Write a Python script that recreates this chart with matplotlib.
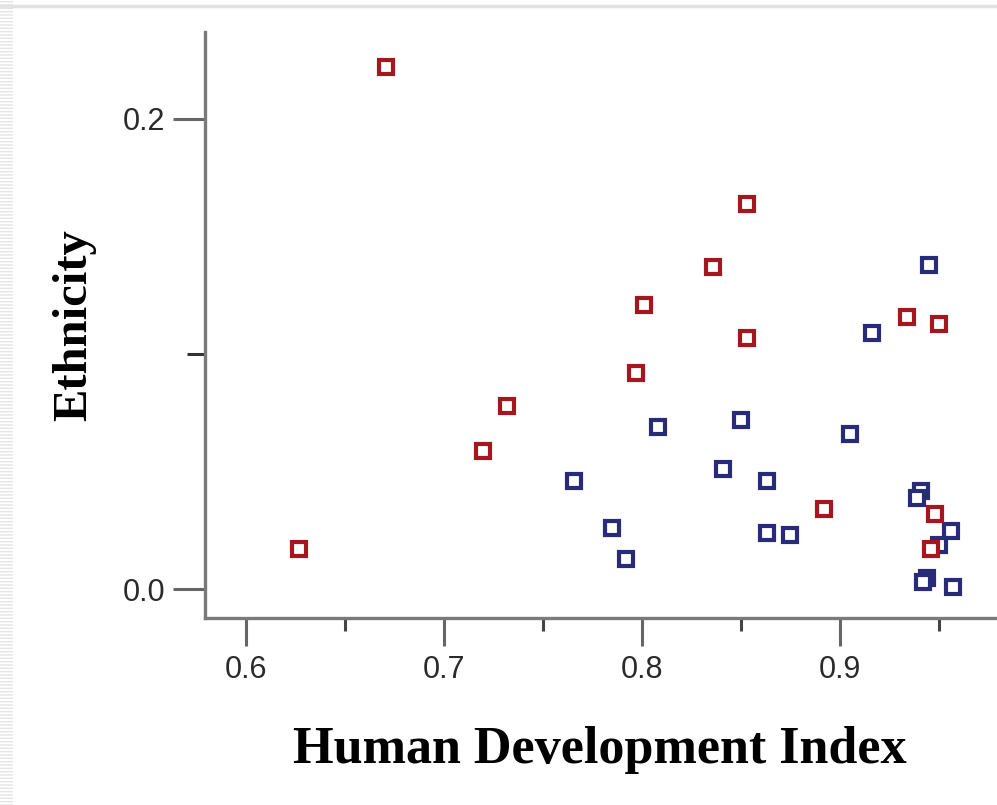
import matplotlib
matplotlib.use("Agg")
import matplotlib.pyplot as plt
from matplotlib.lines import Line2D
from matplotlib.patches import Rectangle

# Human Development Index vs. Ethnicity, two groups of countries
red_hdi = [0.627, 0.671, 0.720, 0.732, 0.797, 0.801, 0.836, 0.853, 0.853,
           0.892, 0.934, 0.950, 0.948, 0.946]
red_eth = [0.017, 0.222, 0.059, 0.078, 0.092, 0.121, 0.137, 0.164, 0.107,
           0.034, 0.116, 0.113, 0.032, 0.017]

blue_hdi = [0.766, 0.785, 0.792, 0.808, 0.850, 0.841, 0.863, 0.863, 0.875,
            0.905, 0.916, 0.945, 0.941, 0.939, 0.956, 0.950, 0.944, 0.942,
            0.957]
blue_eth = [0.046, 0.026, 0.013, 0.069, 0.072, 0.051, 0.046, 0.024, 0.023,
            0.066, 0.109, 0.138, 0.042, 0.039, 0.025, 0.019, 0.005, 0.003,
            0.001]

red = "#a5161f"
blue = "#272b7a"
axis_gray = "#7a7a7a"

fig = plt.figure(figsize=(9.97, 8.05), dpi=100)
ax = fig.add_axes([0.2061, 0.2323, 0.792, 0.728])

ax.plot(blue_hdi, blue_eth, linestyle="none", marker="s", markersize=10.2,
        markerfacecolor="white", markeredgecolor=blue, markeredgewidth=3.0)
ax.plot(red_hdi, red_eth, linestyle="none", marker="s", markersize=10.2,
        markerfacecolor="white", markeredgecolor=red, markeredgewidth=3.0)

ax.set_xlim(0.5797, 0.9784)
ax.set_ylim(-0.0122, 0.2370)

ax.set_xticks([0.6, 0.7, 0.8, 0.9])
ax.set_xticks([0.65, 0.75, 0.85, 0.95], minor=True)
ax.set_yticks([0.0, 0.2])
ax.set_yticks([0.1], minor=True)
ax.set_xticklabels(["0.6", "0.7", "0.8", "0.9"])
ax.set_yticklabels(["0.0", "0.2"])

for s in ["top", "right"]:
    ax.spines[s].set_visible(False)
for s in ["left", "bottom"]:
    ax.spines[s].set_color(axis_gray)
    ax.spines[s].set_linewidth(2.4)

ax.tick_params(axis="x", which="major", length=20, width=2.2, color="#666666",
               pad=7, labelsize=22, labelcolor="#2a2a2a")
ax.tick_params(axis="x", which="minor", length=9, width=2.2, color="#444444")
ax.tick_params(axis="y", which="major", length=23, width=2.2, color="#666666",
               pad=6, labelsize=22, labelcolor="#2a2a2a")
ax.tick_params(axis="y", which="minor", length=13, width=2.2, color="#333333")
for lab in ax.get_xticklabels() + ax.get_yticklabels():
    lab.set_fontfamily("Liberation Sans")

ax.set_xlabel("Human Development Index", fontsize=37.5, fontweight="bold",
              fontfamily="Liberation Serif", labelpad=29)
ax.set_ylabel("Ethnicity", fontsize=35, fontweight="bold",
              fontfamily="Liberation Serif", labelpad=19)

# faint screenshot frame: top rule and striped left margin
fig.add_artist(Line2D([0, 1], [0.9925, 0.9925], color="#e2e2e2", linewidth=2.5))
fig.add_artist(Rectangle((0, 0), 0.013, 1, facecolor="none", edgecolor="#e4e4e4",
                         hatch="-----", linewidth=0))

fig.savefig("out.png", dpi=100)
